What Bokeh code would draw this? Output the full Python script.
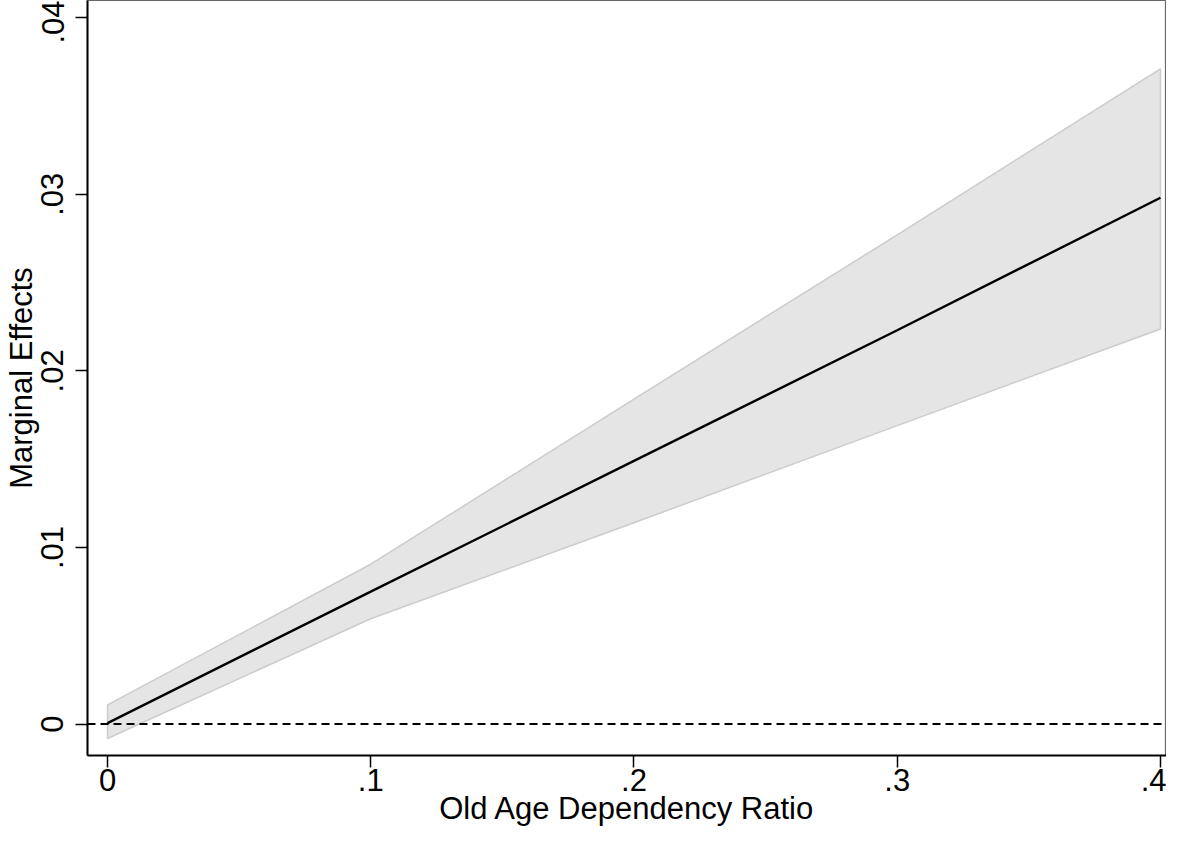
from bokeh.plotting import figure
from bokeh.models import Range1d, FixedTicker, Span
from bokeh.embed import file_html
from bokeh.resources import INLINE

# Data
x_vals = [0.0, 0.1, 0.2, 0.3, 0.4]
marginal_effect = [0.00005, 0.0075, 0.0149, 0.0223, 0.0298]
ci_upper = [0.00109, 0.00905, 0.0184, 0.0277, 0.0371]
ci_lower = [-0.00082, 0.00596, 0.0114, 0.0169, 0.02237]

x_ticks = [0.0, 0.1, 0.2, 0.3, 0.4]
x_tick_labels = ["0", ".1", ".2", ".3", ".4"]
y_ticks = [0.0, 0.01, 0.02, 0.03, 0.04]
y_tick_labels = ["0", ".01", ".02", ".03", ".04"]

FONT = "Liberation Sans"

p = figure(width=1166, height=828, output_backend="svg", toolbar_location=None,
           x_range=Range1d(-0.0076, 0.4023), y_range=Range1d(-0.00178, 0.04097),
           min_border_left=70, min_border_right=0, min_border_top=0, min_border_bottom=70)

p.background_fill_color = "white"
p.border_fill_color = "white"
p.xgrid.visible = False
p.ygrid.visible = False
p.outline_line_color = "#666666"
p.outline_line_width = 1.2

# confidence band
band_x = x_vals + x_vals[::-1]
band_y = ci_upper + ci_lower[::-1]
p.patch(band_x, band_y, fill_color="#e5e5e5", line_color="#cccccc", line_width=1.5)

# zero reference line
p.add_layout(Span(location=0, dimension="width", line_color="black",
                  line_dash="8 5", line_width=2))

# marginal effect line
p.line(x_vals, marginal_effect, line_color="black", line_width=2.4)

for ax in (p.xaxis[0], p.yaxis[0]):
    ax.axis_line_color = "black"
    ax.axis_line_width = 2
    ax.major_tick_line_color = "black"
    ax.major_tick_line_width = 1.5
    ax.major_tick_out = 12
    ax.major_tick_in = 0
    ax.minor_tick_line_color = None
    ax.major_label_text_font = FONT
    ax.major_label_text_font_size = "31px"
    ax.major_label_text_color = "black"
    ax.axis_label_text_font = FONT
    ax.axis_label_text_font_size = "31px"
    ax.axis_label_text_font_style = "normal"
    ax.axis_label_text_color = "black"

p.xaxis[0].ticker = FixedTicker(ticks=x_ticks)
p.xaxis[0].major_label_overrides = dict(zip(x_ticks, x_tick_labels))
p.xaxis[0].axis_label = "Old Age Dependency Ratio"
p.xaxis[0].major_label_standoff = 1
p.xaxis[0].axis_label_standoff = -3

p.yaxis[0].ticker = FixedTicker(ticks=y_ticks)
p.yaxis[0].major_label_overrides = dict(zip(y_ticks, y_tick_labels))
p.yaxis[0].major_label_orientation = "vertical"
p.yaxis[0].axis_label = "Marginal Effects"
p.yaxis[0].major_label_standoff = 12
p.yaxis[0].axis_label_standoff = 0

open("out.html", "w").write(file_html(p, INLINE))
